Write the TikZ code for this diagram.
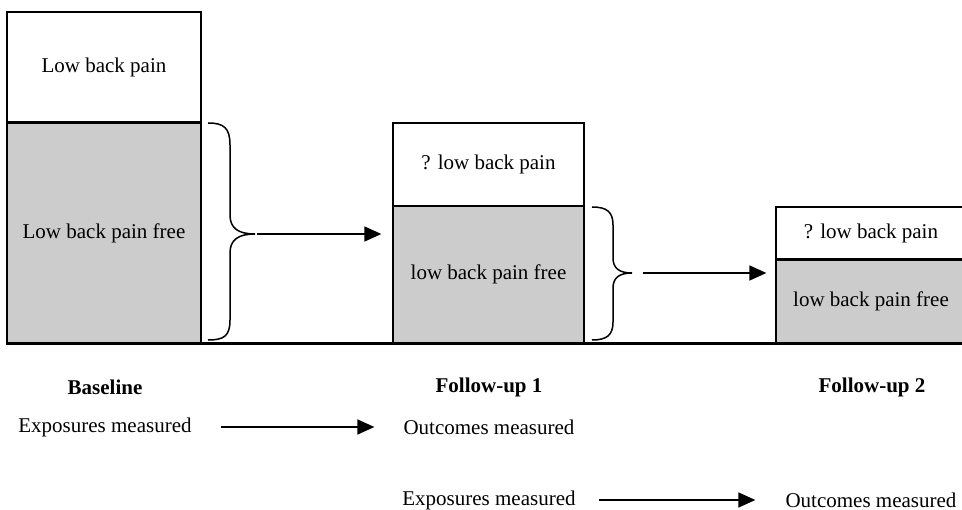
\documentclass[tikz,border=0pt]{standalone}
\usepackage{fontspec}
\setmainfont{Liberation Serif}
\usetikzlibrary{arrows.meta}
\definecolor{shadegray}{RGB}{204,204,204}
\begin{document}
\begin{tikzpicture}[x=1pt,y=-1pt,
  box/.style={draw=black, line width=1.3pt, inner sep=0pt, font=\fontsize{21}{25}\selectfont},
  painbox/.style={box, fill=white},
  freebox/.style={box, fill=shadegray},
  lbl/.style={inner sep=0pt, font=\fontsize{21}{25}\selectfont},
  headlbl/.style={inner sep=0pt, font=\fontsize{21}{25}\selectfont\bfseries},
  arr/.style={line width=1.6pt, -{Triangle[length=17pt,width=15pt]}},
  bracestyle/.style={line width=1.5pt}]
\useasboundingbox (0,0) rectangle (962,510);
\clip (0,0) rectangle (962,510);
% boxes
\node[painbox, minimum width=194pt, minimum height=111pt] (p1) at (104,67.5) {Low back pain};
\node[freebox, minimum width=194pt, minimum height=220pt] (f1) at (104,233) {Low back pain free};
\node[painbox, minimum width=191pt, minimum height=83pt] (p2) at (488.5,164.5) {? low back pain};
\node[freebox, minimum width=191pt, minimum height=137pt] (f2) at (488.5,274.5) {low back pain free};
\node[painbox, minimum width=190pt, minimum height=53pt] (p3) at (871,233.5) {? low back pain};
\node[freebox, minimum width=190pt, minimum height=83pt] (f3) at (871,301.5) {low back pain free};
\draw[line width=2.5pt] (f1.north west) -- (f1.north east);
\draw[line width=2.5pt] (f3.north west) -- (f3.north east);
\draw[line width=3pt] (f1.south west) -- (f3.south east);
% braces
\coordinate (t1) at (255,234);
\coordinate (t2) at (632,273);
\draw[bracestyle] (208,123) .. controls (224,123) and (230,128) .. (230,145) -- (230,215)
  .. controls (230,228) and (238,234) .. (t1)
  .. controls (238,234) and (230,240) .. (230,253) -- (230,320)
  .. controls (230,336) and (224,340) .. (208,340);
\draw[bracestyle] (592,207) .. controls (607,207) and (613,212) .. (613,225) -- (613,258)
  .. controls (613,268) and (619,273) .. (t2)
  .. controls (619,273) and (613,278) .. (613,288) -- (613,322)
  .. controls (613,335) and (607,340) .. (592,340);
\draw[arr, shorten <=2pt, shorten >=11pt] (t1) -- (t1 -| f2.west);
\draw[arr, shorten <=11pt, shorten >=9pt] (t2) -- (t2 -| f3.west);
% labels
\node[headlbl] (h1) at (105,387) {Baseline};
\node[headlbl] (h2) at (489,387) {Follow-up 1};
\node[headlbl] (h3) at (872,387) {Follow-up 2};
\node[lbl] (e1) at (105,427) {Exposures measured};
\node[lbl] (o1) at (489,427) {Outcomes measured};
\node[lbl] (e2) at (489,500) {Exposures measured};
\node[lbl] (o2) at (871,500) {Outcomes measured};
\draw[arr, shorten <=29pt, shorten >=29pt] (e1) -- (o1);
\draw[arr, shorten <=23pt, shorten >=30pt] (e2) -- (o2);
\end{tikzpicture}
\end{document}
